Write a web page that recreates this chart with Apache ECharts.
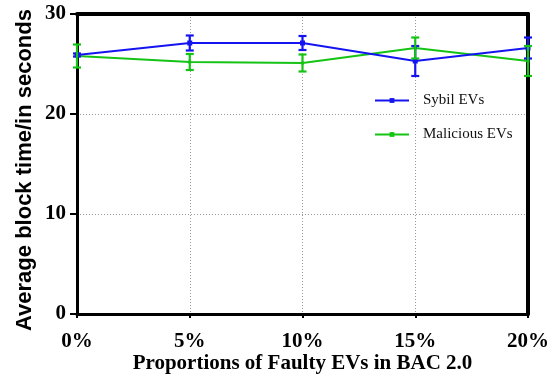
<!DOCTYPE html>
<html>
<head>
<meta charset="utf-8">
<script src="https://cdn.jsdelivr.net/npm/echarts@6/dist/echarts.min.js"></script>
<style>
  html, body { margin: 0; padding: 0; background: #fff; }
  #chart { width: 557px; height: 375px; }
</style>
</head>
<body>
<div id="chart"></div>
<script>
// Faulty EV proportions on the x axis
const categories = ['0%', '5%', '10%', '15%', '20%'];

// Average block time (s) and the half-width of each error bar
const sybilMean = [25.9, 27.1, 27.1, 25.3, 26.6];
const sybilErr = [0.15, 0.75, 0.7, 1.5, 1.05];
const maliciousMean = [25.8, 25.2, 25.1, 26.6, 25.3];
const maliciousErr = [1.15, 0.8, 0.85, 1.05, 1.5];

const yTicks = [0, 10, 20, 30];

const BLUE = '#1414f0';
const GREEN = '#14c314';

function errorBarSeries(name, means, errs, color) {
  const data = means.map((m, i) => [i, m - errs[i], m + errs[i]]);
  return {
    type: 'custom',
    name: name + ' err',
    z: 5,
    data: data,
    renderItem: function (params, api) {
      const x = api.value(0);
      const lo = api.coord([x, api.value(1)]);
      const hi = api.coord([x, api.value(2)]);
      const cap = 4;
      const style = { stroke: color, lineWidth: 2.2, fill: 'none' };
      return {
        type: 'group',
        children: [
          { type: 'line', shape: { x1: lo[0], y1: lo[1], x2: hi[0], y2: hi[1] }, style: style },
          { type: 'line', shape: { x1: lo[0] - cap, y1: lo[1], x2: lo[0] + cap, y2: lo[1] }, style: style },
          { type: 'line', shape: { x1: hi[0] - cap, y1: hi[1], x2: hi[0] + cap, y2: hi[1] }, style: style }
        ]
      };
    }
  };
}

const tickFont = { fontFamily: 'Liberation Serif', fontWeight: 'bold', fontSize: 21, color: '#000' };
const gridLine = { show: true, lineStyle: { color: '#999', width: 1, type: [1, 2] } };

const chart = echarts.init(document.getElementById('chart'), null, { renderer: 'canvas' });

chart.setOption({
  animation: false,
  backgroundColor: '#fff',
  grid: { left: 77, right: 29, top: 14, bottom: 61, containLabel: false, outerBoundsMode: 'none' },
  legend: {
    orient: 'vertical',
    left: 369,
    top: 88,
    itemWidth: 34,
    itemHeight: 6,
    itemGap: 19,
    data: ['Sybil EVs', 'Malicious EVs'],
    textStyle: { fontFamily: 'Liberation Serif', fontSize: 15, color: '#111', padding: [0, 0, 0, 9] }
  },
  xAxis: [
    {
      type: 'category',
      data: categories,
      boundaryGap: false,
      name: 'Proportions of Faulty EVs in BAC 2.0',
      nameLocation: 'middle',
      nameGap: 39,
      nameMoveOverlap: false,
      nameTextStyle: { fontFamily: 'Liberation Serif', fontWeight: 'bold', fontSize: 21, color: '#000' },
      axisLine: { lineStyle: { color: '#000', width: 3 } },
      axisTick: { show: true, length: 4, lineStyle: { color: '#000', width: 2 } },
      axisLabel: Object.assign({ margin: 17 }, tickFont),
      splitLine: gridLine
    },
    {
      // top frame edge
      type: 'category',
      data: categories,
      boundaryGap: false,
      position: 'top',
      axisLine: { onZero: false, lineStyle: { color: '#000', width: 4 } },
      axisTick: { show: false },
      axisLabel: { show: false },
      splitLine: { show: false }
    }
  ],
  yAxis: [
    {
      type: 'value',
      min: yTicks[0],
      max: yTicks[yTicks.length - 1],
      interval: 10,
      name: 'Average block time/in seconds',
      nameLocation: 'middle',
      nameGap: 41,
      nameMoveOverlap: false,
      nameTextStyle: { fontFamily: 'Liberation Sans', fontWeight: 'bold', fontSize: 22, color: '#000', padding: [0, 12, 0, 0] },
      axisLine: { show: true, lineStyle: { color: '#000', width: 3 } },
      axisTick: { show: true, length: 7, lineStyle: { color: '#000', width: 2 } },
      axisLabel: Object.assign({ margin: 11 }, tickFont),
      splitLine: gridLine
    },
    {
      // right frame edge
      type: 'value',
      min: yTicks[0],
      max: yTicks[yTicks.length - 1],
      interval: 10,
      position: 'right',
      axisLine: { show: true, onZero: false, lineStyle: { color: '#000', width: 4 } },
      axisTick: { show: false },
      axisLabel: { show: false },
      splitLine: { show: false }
    }
  ],
  series: [
    {
      name: 'Sybil EVs',
      type: 'line',
      data: sybilMean,
      color: BLUE,
      lineStyle: { width: 2, color: BLUE },
      symbol: 'rect',
      symbolSize: 5,
      showSymbol: true,
      itemStyle: { color: BLUE },
      z: 4
    },
    {
      name: 'Malicious EVs',
      type: 'line',
      data: maliciousMean,
      color: GREEN,
      lineStyle: { width: 2, color: GREEN },
      symbol: 'rect',
      symbolSize: 3,
      showSymbol: true,
      itemStyle: { color: GREEN },
      z: 3
    },
    errorBarSeries('Sybil EVs', sybilMean, sybilErr, BLUE),
    errorBarSeries('Malicious EVs', maliciousMean, maliciousErr, GREEN)
  ]
});
</script>
</body>
</html>
